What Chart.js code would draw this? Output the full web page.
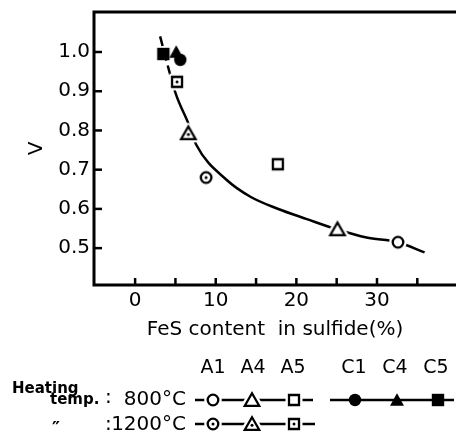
<!DOCTYPE html>
<html>
<head>
<meta charset="utf-8">
<script src="https://cdn.jsdelivr.net/npm/chart.js@4.4.1/dist/chart.umd.min.js"></script>
<style>
  html, body { margin: 0; padding: 0; background: #fff; }
  #wrap { width: 456px; height: 432px; }
</style>
</head>
<body>
<div id="wrap"><canvas id="fesChart" width="456" height="432"></canvas></div>
<script>
// --- data ---
const groupsA = ["A1", "A4", "A5"];
const groupsC = ["C1", "C4", "C5"];
const fes800 = [32.6, 25.1, 17.7];     // open symbols, 800°C
const v800 = [0.515, 0.548, 0.714];
const fes1200 = [8.8, 6.6, 5.2];       // dotted symbols, 1200°C
const v1200 = [0.680, 0.793, 0.924];
const fesC = [5.6, 5.1, 3.5];          // filled symbols, 800°C
const vC = [0.980, 1.0, 0.995];
const curveFes = [3.1, 4.3, 5.1, 6.6, 7.6, 11.4, 14.3, 17.6, 21.3, 25.0, 28.7, 32.6, 35.9];
const curveV = [1.040, 0.946, 0.890, 0.818, 0.763, 0.673, 0.631, 0.601, 0.574, 0.548, 0.527, 0.515, 0.489];
const xTicks = [0, 5, 10, 15, 20, 25, 30, 35];
const xLabelled = [0, 10, 20, 30];
const yTicks = [0.5, 0.6, 0.7, 0.8, 0.9, 1.0];

const FONT = "'DejaVu Sans', sans-serif";

// marker images: shape = circle|triangle|square, kind = open|dot|filled
function makeMarker(shape, kind) {
  const c = document.createElement("canvas");
  c.width = 26; c.height = 26;
  const g = c.getContext("2d");
  g.translate(13, 13);
  const path = () => {
    g.beginPath();
    if (shape === "circle") {
      g.arc(0, 0, kind === "filled" ? 6.2 : 5.3, 0, Math.PI * 2);
    } else if (shape === "triangle") {
      const w = kind === "filled" ? 7 : 7.2;
      g.moveTo(0, -6.8); g.lineTo(w, 5.8); g.lineTo(-w, 5.8); g.closePath();
    } else {
      const s = kind === "filled" ? 6.2 : 5;
      g.rect(-s, -s, 2 * s, 2 * s);
    }
  };
  path();
  if (kind !== "filled") {
    g.strokeStyle = "#fff"; g.lineWidth = 7; g.lineJoin = "round"; g.stroke();
  }
  g.fillStyle = kind === "filled" ? "#000" : "#fff";
  g.fill();
  if (kind !== "filled") {
    g.strokeStyle = "#000"; g.lineWidth = 2.3; g.lineJoin = "miter"; g.stroke();
  }
  if (kind === "dot") {
    g.beginPath();
    g.arc(0, shape === "triangle" ? 1.3 : 0, 1.5, 0, Math.PI * 2);
    g.fillStyle = "#000"; g.fill();
  }
  return c;
}

const shapes = ["circle", "triangle", "square"];
const openMarks = shapes.map(s => makeMarker(s, "open"));
const dotMarks = shapes.map(s => makeMarker(s, "dot"));
const fillMarks = shapes.map(s => makeMarker(s, "filled"));

const toPts = (xs, ys) => xs.map((x, i) => ({ x: x, y: ys[i] }));

// frame, inner tick marks and the symbol key below the axes
const framePlugin = {
  id: "frameAndKey",
  afterDraw(chart) {
    const { ctx, chartArea: a, scales } = chart;
    ctx.save();
    ctx.strokeStyle = "#000";
    ctx.lineWidth = 3;
    ctx.beginPath();
    ctx.moveTo(a.right + 2, a.top);
    ctx.lineTo(a.left, a.top);
    ctx.lineTo(a.left, a.bottom);
    ctx.lineTo(a.right + 2, a.bottom);
    ctx.stroke();
    ctx.lineWidth = 2.5;
    xTicks.forEach(t => {
      const px = scales.x.getPixelForValue(t);
      ctx.beginPath(); ctx.moveTo(px, a.bottom); ctx.lineTo(px, a.bottom - 7); ctx.stroke();
    });
    yTicks.forEach(t => {
      const py = scales.y.getPixelForValue(t);
      ctx.beginPath(); ctx.moveTo(a.left, py); ctx.lineTo(a.left + 8, py); ctx.stroke();
    });

    // key
    ctx.fillStyle = "#000";
    ctx.textBaseline = "middle";
    ctx.font = "19px " + FONT;
    ctx.textAlign = "center";
    const colA = [213, 253, 293];
    const colC = [354, 395, 436];
    groupsA.forEach((g, i) => ctx.fillText(g, colA[i], 368));
    groupsC.forEach((g, i) => ctx.fillText(g, colC[i], 368));

    ctx.font = "bold 15px " + FONT;
    ctx.textAlign = "left";
    ctx.textBaseline = "alphabetic";
    ctx.fillText("Heating", 12, 393);
    ctx.fillText("temp.", 50, 404);
    ctx.font = "bold 18px " + FONT;
    ctx.fillText("\u2033", 52, 434);

    ctx.font = "20px " + FONT;
    ctx.textBaseline = "middle";
    ctx.fillText(":", 105, 398);
    ctx.fillText(":", 105, 425);
    ctx.textAlign = "right";
    ctx.fillText("800°C", 186, 400);
    ctx.fillText("1200°C", 186, 425);

    const row = (x0, x1, y, cols, marks) => {
      ctx.lineWidth = 2.3;
      ctx.beginPath(); ctx.moveTo(x0, y); ctx.lineTo(x1, y); ctx.stroke();
      marks.forEach((m, i) => ctx.drawImage(m, cols[i] - 13, y - 13));
    };
    row(195, 313, 400, [213, 252, 294], openMarks);
    row(330, 454, 400, [355, 397, 438], fillMarks);
    row(195, 315, 424, [213, 252, 294], dotMarks);
    ctx.restore();
  }
};

new Chart(document.getElementById("fesChart"), {
  type: "scatter",
  data: {
    datasets: [
      {
        label: "C (800°C)",
        data: toPts(fesC, vC),
        pointStyle: fillMarks,
        pointRadius: 7,
      },
      {
        label: "A (800°C)",
        data: toPts(fes800, v800),
        pointStyle: openMarks,
        pointRadius: 7,
      },
      {
        label: "A (1200°C)",
        data: toPts(fes1200, v1200),
        pointStyle: dotMarks,
        pointRadius: 7,
      },
      {
        label: "fit",
        data: toPts(curveFes, curveV),
        showLine: true,
        pointRadius: 0,
        borderColor: "#000",
        borderWidth: 2.5,
        cubicInterpolationMode: "monotone",
        segment: {
          borderDash: ctx => (ctx.p0.parsed.x < 4 ? [10, 5] : undefined),
        },
      },
    ],
  },
  options: {
    responsive: false,
    animation: false,
    events: [],
    layout: { autoPadding: false, padding: { top: 12, right: 0, bottom: 90, left: 0 } },
    plugins: { legend: { display: false }, tooltip: { enabled: false } },
    scales: {
      x: {
        type: "linear",
        min: -5.1,
        max: 39.8,
        afterFit: s => { s.height = 57; s.paddingLeft = 0; s.paddingRight = 0; },
        afterBuildTicks: s => { s.ticks = xTicks.map(v => ({ value: v })); },
        grid: { display: false, drawTicks: false },
        border: { display: false },
        ticks: {
          padding: 4,
          color: "#000",
          font: { family: FONT, size: 20 },
          autoSkip: false,
          maxRotation: 0,
          callback: v => (xLabelled.includes(v) ? String(v) : ""),
        },
        title: {
          display: true,
          text: "FeS content  in sulfide(%)",
          color: "#000",
          font: { family: FONT, size: 20 },
          padding: { top: 0, bottom: 0 },
        },
      },
      y: {
        type: "linear",
        min: 0.406,
        max: 1.102,
        afterFit: s => { s.width = 94; s.paddingTop = 0; s.paddingBottom = 0; },
        afterBuildTicks: s => { s.ticks = yTicks.map(v => ({ value: v })); },
        grid: { display: false, drawTicks: false },
        border: { display: false },
        ticks: {
          padding: 4,
          color: "#000",
          font: { family: FONT, size: 20 },
          callback: v => v.toFixed(1),
        },
        title: {
          display: true,
          text: "V",
          color: "#000",
          font: { family: FONT, size: 20 },
          padding: { top: 25, bottom: 0 },
        },
      },
    },
  },
  plugins: [framePlugin],
});
</script>
</body>
</html>
